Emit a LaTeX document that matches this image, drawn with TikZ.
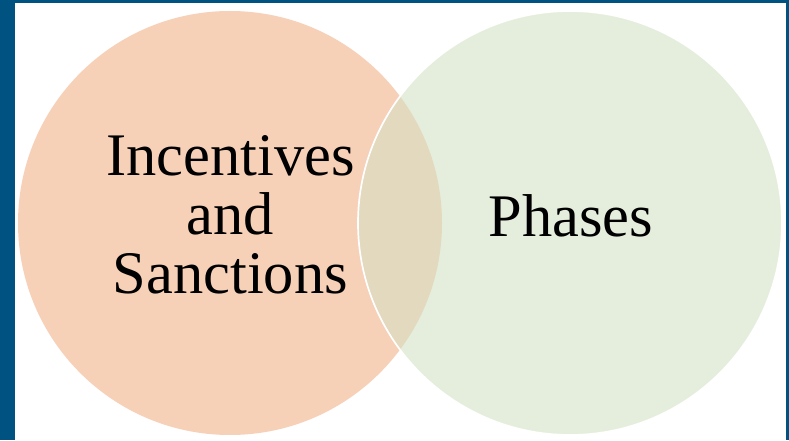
\documentclass[tikz,border=0pt]{standalone}
\usepackage{fontspec}
\setmainfont{Liberation Serif}
\usepackage{tikz}
\usetikzlibrary{positioning}
\definecolor{frameblue}{RGB}{0,82,128}
\definecolor{incentfill}{RGB}{247,208,184}
\definecolor{phasefill}{RGB}{229,238,220}
\definecolor{overlapfill}{RGB}{227,217,190}
\tikzset{every picture/.style={line width=0.75pt}}
\tikzset{
  vennlabel/.style={font=\fontsize{43}{42}\selectfont, align=center, inner sep=0pt},
}

\begin{document}
\begin{tikzpicture}
\useasboundingbox (0,0) rectangle (19.725,11);
\fill[white] (0,0) rectangle (19.725,11);
% frame
\fill[frameblue] (0,0) rectangle (0.375,11);
\fill[frameblue] (0,10.925) rectangle (19.725,11);
\fill[frameblue] (19.65,0) rectangle (19.725,11);
% circles
\coordinate (lc) at (5.75,5.425);
\coordinate (rc) at (14.25,5.425);
\fill[incentfill] (lc) circle (5.3);
\fill[phasefill] (rc) circle (5.3);
\begin{scope}
\clip (lc) circle (5.3);
\fill[overlapfill] (rc) circle (5.3);
\end{scope}
\draw[white, line width=1.2pt] (rc) circle (5.3);
% labels
\node[vennlabel] (incent) at (5.76,5.62) {Incentives\\and\\Sanctions};
\node[vennlabel, anchor=base] (phases) at (14.27,5.075) {Phases};
\end{tikzpicture}
\end{document}
